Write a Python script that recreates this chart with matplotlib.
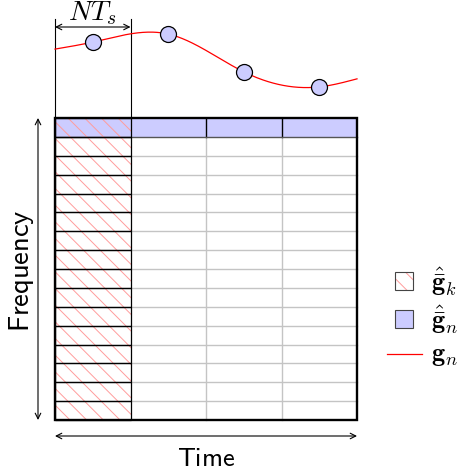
import numpy as np
import matplotlib
matplotlib.use("Agg")
import matplotlib.pyplot as plt
from matplotlib.patches import Rectangle

plt.rcParams['mathtext.fontset'] = 'cm'
plt.rcParams['hatch.linewidth'] = 0.7

# data
n_time = 4          # time slots (columns)
n_freq = 16         # frequency bins (rows)
knot_t = [0.0, 0.5, 1.5, 2.5, 3.5, 4.0]        # time in slot units
knot_g = [0.34, 0.54, 0.77, -0.31, -0.74, -0.51]  # g_n amplitude
sample_idx = [1, 2, 3, 4]                       # knots that are samples
labels = [r'$\hat{\bar{\mathbf{g}}}_k$', r'$\hat{\bar{\mathbf{g}}}_n$',
          r'$\mathbf{g}_n$']

# layout (pixels)
W, H = 461, 477
x0, y0 = 55, 119
cw = 75.5
rh = 302 / n_freq
g_mid, g_scale = 62, 35
blue = '#ccccff'
gray = '#c4c4c4'
hatch_red = '#ff9c9c'


def natural_spline(x, y, xs):
    x = np.asarray(x, float)
    y = np.asarray(y, float)
    n = len(x)
    h = np.diff(x)
    A = np.zeros((n, n))
    b = np.zeros(n)
    A[0, 0] = A[-1, -1] = 1
    for i in range(1, n - 1):
        A[i, i - 1] = h[i - 1]
        A[i, i] = 2 * (h[i - 1] + h[i])
        A[i, i + 1] = h[i]
        b[i] = 6 * ((y[i + 1] - y[i]) / h[i] - (y[i] - y[i - 1]) / h[i - 1])
    m = np.linalg.solve(A, b)
    out = np.empty_like(xs)
    for j, v in enumerate(xs):
        i = min(np.searchsorted(x, v) - 1, n - 2)
        i = max(i, 0)
        t1, t2 = x[i + 1] - v, v - x[i]
        out[j] = (m[i] * t1 ** 3 + m[i + 1] * t2 ** 3) / (6 * h[i]) \
            + (y[i] / h[i] - m[i] * h[i] / 6) * t1 \
            + (y[i + 1] / h[i] - m[i + 1] * h[i] / 6) * t2
    return out


def hatched(x, y, w, h, zorder):
    # hatch colour follows edgecolor, so draw hatch and border separately
    ax.add_patch(Rectangle((x, y), w, h, facecolor='none', hatch='\\\\',
                           edgecolor=hatch_red, lw=0, zorder=zorder))


fig = plt.figure(figsize=(W / 100, H / 100), dpi=100)
ax = fig.add_axes([0, 0, 1, 1])
ax.set_xlim(0, W)
ax.set_ylim(H, 0)
ax.axis('off')

xr = x0 + n_time * cw
yb = y0 + n_freq * rh

# blue top row
ax.add_patch(Rectangle((x0, y0), n_time * cw, rh, facecolor=blue,
                       edgecolor='none', zorder=1))
# gray grid in the other columns
for r in range(2, n_freq):
    ax.plot([x0 + cw, xr], [y0 + r * rh] * 2, color=gray, lw=1, zorder=2)
for c in range(2, n_time):
    ax.plot([x0 + c * cw] * 2, [y0 + rh, yb], color=gray, lw=1, zorder=2)
    ax.plot([x0 + c * cw] * 2, [y0, y0 + rh], color='black', lw=1, zorder=3)
ax.plot([x0, xr], [y0 + rh] * 2, color='#555555', lw=1, zorder=3)

# hatched first column
for r in range(n_freq):
    hatched(x0, y0 + r * rh, cw, rh, 3)
    ax.add_patch(Rectangle((x0, y0 + r * rh), cw, rh, facecolor='none',
                           edgecolor='black', lw=0.9, zorder=4))
# outer border
ax.add_patch(Rectangle((x0, y0), n_time * cw, n_freq * rh, facecolor='none',
                       edgecolor='black', lw=1.7, zorder=5))

# vertical markers for N*Ts
for xv in (x0, x0 + cw):
    ax.plot([xv, xv], [20, y0], color='black', lw=0.8, zorder=3)
ax.annotate('', xy=(x0, 28), xytext=(x0 + cw, 28),
            arrowprops=dict(arrowstyle='<->', lw=0.8, color='black',
                            shrinkA=0, shrinkB=0))
ax.text(x0 + cw / 2, 20, r'$NT_s$', ha='center', va='baseline', fontsize=20)

# curve g_n and samples
tt = np.linspace(knot_t[0], knot_t[-1], 300)
gg = natural_spline(knot_t, knot_g, tt)
ax.plot(x0 + tt * cw, g_mid - gg * g_scale, color='red', lw=0.9, zorder=3)
st = np.array([knot_t[i] for i in sample_idx])
sg = np.array([knot_g[i] for i in sample_idx])
ax.plot(x0 + st * cw, g_mid - sg * g_scale, 'o', ms=11.5, mfc=blue,
        mec='black', mew=0.9, zorder=4)

# axis arrows and labels
ax.annotate('', xy=(38, y0), xytext=(38, yb),
            arrowprops=dict(arrowstyle='<->', lw=0.8, color='black',
                            shrinkA=0, shrinkB=0))
ax.annotate('', xy=(x0, 437), xytext=(xr, 437),
            arrowprops=dict(arrowstyle='<->', lw=0.8, color='black',
                            shrinkA=0, shrinkB=0))
ax.text(21, 271, r'$\mathsf{Frequency}$', rotation=90,
        ha='center', va='center', fontsize=20.5)
ax.text((x0 + xr) / 2, 459, r'$\mathsf{Time}$', ha='center', va='center',
        fontsize=19)

# legend
lx, ly = 404, [282, 320, 355]
hatched(lx - 9, ly[0] - 9, 18, 18, 2)
ax.add_patch(Rectangle((lx - 9, ly[0] - 9), 18, 18, facecolor='none',
                       edgecolor='#444444', lw=0.8, zorder=3))
ax.add_patch(Rectangle((lx - 9, ly[1] - 9), 18, 18, facecolor=blue,
                       edgecolor='#444444', lw=0.8))
ax.plot([387, 422], [ly[2]] * 2, color='red', lw=0.9)
for y, lab in zip(ly, labels):
    ax.text(431, y, lab, ha='left', va='center', fontsize=19)

fig.savefig('out.png', dpi=100)
